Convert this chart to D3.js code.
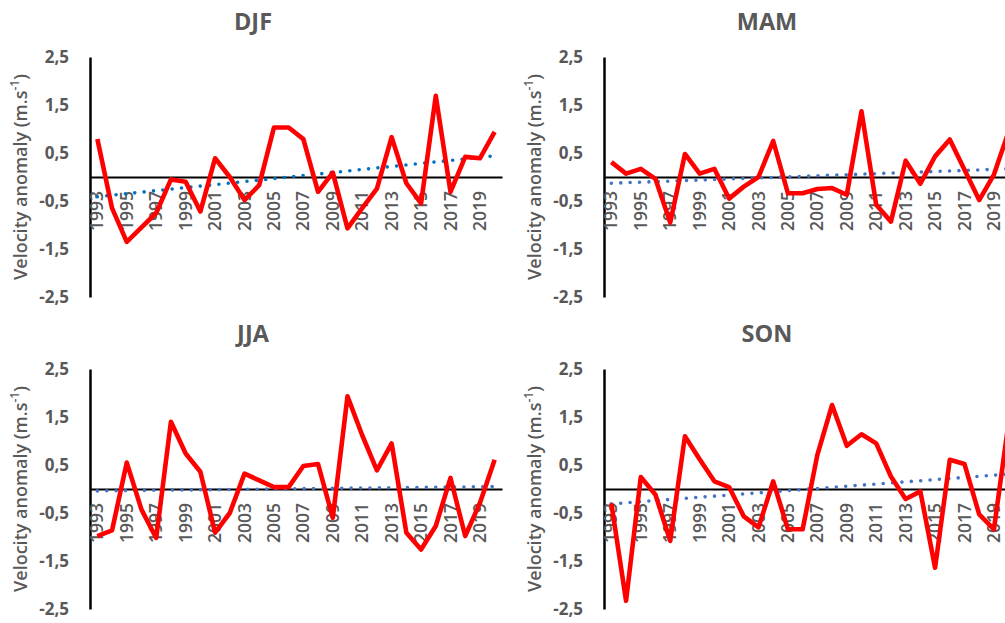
<!DOCTYPE html>
<html>
<head>
<meta charset="utf-8">
<script src="https://cdn.jsdelivr.net/npm/d3@7"></script>
<style>
  body { margin: 0; background: #fff; }
  svg { display: block; font-family: "Open Sans", sans-serif; }
</style>
</head>
<body>
<svg id="chart" width="1005" height="623"></svg>
<script>
// categories
const years = [1993, 1994, 1995, 1996, 1997, 1998, 1999, 2000, 2001, 2002,
               2003, 2004, 2005, 2006, 2007, 2008, 2009, 2010, 2011, 2012,
               2013, 2014, 2015, 2016, 2017, 2018, 2019, 2020];
const seasons = ['DJF', 'MAM', 'JJA', 'SON'];

// velocity anomalies
const djf = [0.79, -0.65, -1.35, -1.05, -0.75, -0.05, -0.1, -0.72, 0.39, 0.0,
             -0.48, -0.17, 1.03, 1.03, 0.79, -0.31, 0.09, -1.07, -0.65, -0.24,
             0.83, -0.13, -0.55, 1.69, -0.31, 0.42, 0.39, 0.94];
const mam = [0.31, 0.07, 0.17, -0.04, -0.95, 0.48, 0.07, 0.17, -0.45, -0.2,
             0.0, 0.75, -0.34, -0.34, -0.25, -0.23, -0.37, 1.37, -0.58, -0.93,
             0.34, -0.14, 0.43, 0.78, 0.15, -0.48, 0.05, 0.95];
const jja = [-0.98, -0.86, 0.55, -0.43, -1.02, 1.4, 0.74, 0.36, -0.91, -0.5,
             0.32, 0.18, 0.04, 0.04, 0.48, 0.52, -0.6, 1.93, 1.12, 0.39,
             0.95, -0.91, -1.26, -0.77, 0.23, -0.98, -0.29, 0.61];
const son = [-0.3, -2.33, 0.25, -0.12, -1.08, 1.1, 0.62, 0.16, 0.04, -0.57,
             -0.8, 0.16, -0.84, -0.84, 0.71, 1.75, 0.9, 1.14, 0.95, 0.26,
             -0.21, -0.05, -1.64, 0.61, 0.52, -0.53, -0.84, 1.4];
const seriesValues = [djf, mam, jja, son];

// linear trend line, value at first and last year
const trendStart = [-0.41, -0.13, -0.04, -0.31];
const trendEnd = [0.44, 0.17, 0.05, 0.31];
const trendColors = ['#0070c0', '#4472c4', '#4472c4', '#4472c4'];

// y axis
const yTicks = [-2.5, -1.5, -0.5, 0.5, 1.5, 2.5];
const yDomain = [-2.5, 2.5];

const svg = d3.select('#chart');
const grey = '#595959';
const fmt = d3.formatLocale({ decimal: ',', thousands: '.', grouping: [3], currency: ['', ''], minus: '-' }).format('.1f');

// panel corners: left column / right column, top row / bottom row
const origins = [[0, 0], [514, 0], [0, 312], [514, 312]];

function drawPanel(i) {
  const [ox, oy] = origins[i];
  const axisX = ox + 90;
  const plotW = 412;

  const x = d3.scaleBand()
    .domain(years)
    .range([axisX, axisX + plotW])
    .padding(0);
  const cx = d => x(d) + x.bandwidth() / 2;

  const y = d3.scaleLinear()
    .domain(yDomain)
    .range([oy + 297, oy + 57]);

  const g = svg.append('g');

  // title
  g.append('text')
    .attr('x', ox + 253)
    .attr('y', oy + 30)
    .attr('text-anchor', 'middle')
    .attr('fill', grey)
    .attr('font-size', 23.5)
    .attr('font-weight', 'bold')
    .text(seasons[i]);

  // y axis title
  const yt = g.append('text')
    .attr('transform', `translate(${ox + 27},${(y(2.5) + y(-2.5)) / 2}) rotate(-90)`)
    .attr('text-anchor', 'middle')
    .attr('fill', grey)
    .attr('font-size', 18)
    .attr('font-weight', 600);
  yt.append('tspan').text('Velocity anomaly (m.s');
  yt.append('tspan').attr('font-size', 12).attr('baseline-shift', 'super').text('-1');
  yt.append('tspan').text(')');

  // y axis
  const ya = g.append('g')
    .attr('transform', `translate(${axisX},0)`)
    .call(d3.axisLeft(y).tickValues(yTicks).tickSize(0).tickPadding(21).tickFormat(fmt));
  ya.select('.domain').attr('stroke', '#000').attr('stroke-width', 2.5);
  ya.selectAll('text')
    .attr('fill', grey)
    .attr('font-size', 17)
    .attr('font-weight', 'bold')
    .attr('font-family', '"Open Sans", sans-serif');

  // category axis along zero
  const xa = g.append('g')
    .attr('transform', `translate(0,${y(0)})`)
    .call(d3.axisBottom(x).tickValues(years.filter((d, k) => k % 2 === 0)).tickSize(0));
  xa.select('.domain').attr('stroke', '#000').attr('stroke-width', 2);
  xa.selectAll('text')
    .attr('fill', grey)
    .attr('font-size', 17.5)
    .attr('font-weight', 600)
    .attr('font-family', '"Open Sans", sans-serif')
    .attr('text-anchor', 'end')
    .attr('transform', 'rotate(-90)')
    .attr('x', -14)
    .attr('y', 0)
    .attr('dy', '0.35em');

  // trend (dotted)
  g.append('line')
    .attr('x1', cx(years[0]))
    .attr('y1', y(trendStart[i]))
    .attr('x2', cx(years[years.length - 1]))
    .attr('y2', y(trendEnd[i]))
    .attr('stroke', trendColors[i])
    .attr('stroke-width', 3.6)
    .attr('stroke-linecap', 'round')
    .attr('stroke-dasharray', '0 9.4');

  // series
  const line = d3.line()
    .x((d, k) => cx(years[k]))
    .y(d => y(d));
  g.append('path')
    .datum(seriesValues[i])
    .attr('d', line)
    .attr('fill', 'none')
    .attr('stroke', '#ff0000')
    .attr('stroke-width', 4.6)
    .attr('stroke-linejoin', 'round');
}

seasons.forEach((s, i) => drawPanel(i));
</script>
</body>
</html>
